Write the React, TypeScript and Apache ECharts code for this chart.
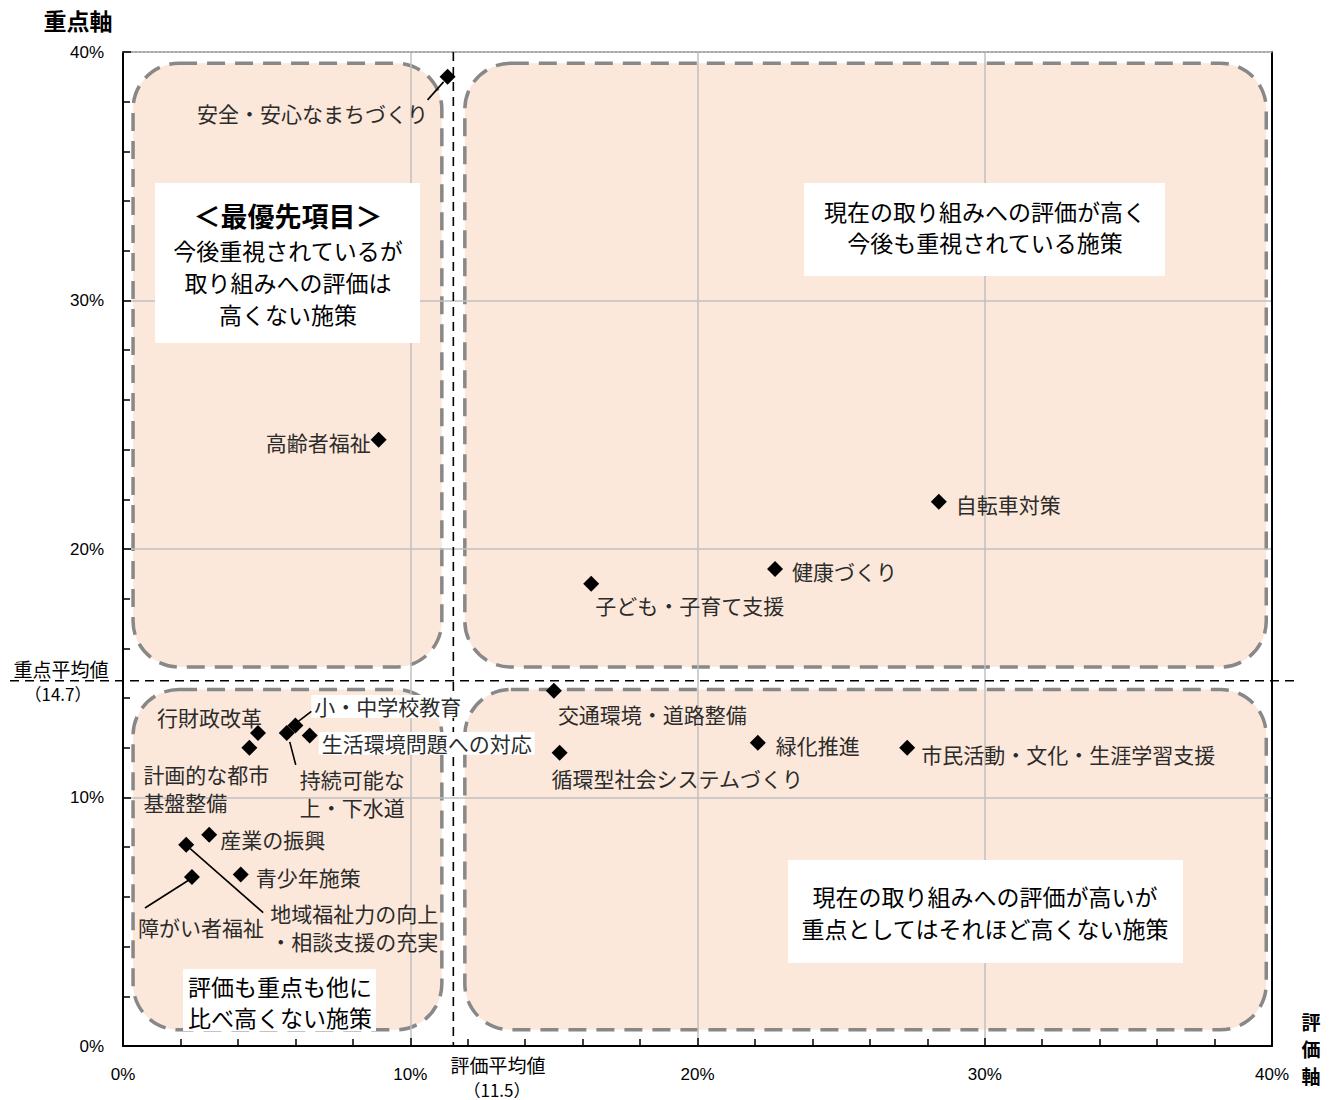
import React, { useEffect, useRef } from "react";
import * as echarts from "echarts";

// ---- data ----
const itemNames = [
  "安全・安心なまちづくり",
  "高齢者福祉",
  "自転車対策",
  "健康づくり",
  "子ども・子育て支援",
  "交通環境・道路整備",
  "循環型社会システムづくり",
  "緑化推進",
  "市民活動・文化・生涯学習支援",
  "行財政改革",
  "計画的な都市基盤整備",
  "小・中学校教育",
  "持続可能な上・下水道",
  "生活環境問題への対応",
  "産業の振興",
  "地域福祉力の向上・相談支援の充実",
  "障がい者福祉",
  "青少年施策",
];
const evalValues = [11.3, 8.9, 28.4, 22.7, 16.3, 15.0, 15.2, 22.1, 27.3, 4.7, 4.4, 6.0, 5.7, 6.5, 3.0, 2.2, 2.4, 4.1];
const priorityValues = [39.0, 24.4, 21.9, 19.2, 18.6, 14.3, 11.8, 12.2, 12.0, 12.6, 12.0, 12.9, 12.6, 12.5, 8.5, 8.1, 6.8, 6.9];
const avgEval = 11.5;
const avgPriority = 14.7;
const axisTicks = [0, 10, 20, 30, 40];

// ---- label layout (pixel offsets from each point) ----
type LabelCfg = {
  lines: string[];
  dx: number;
  dy: number; // centre of first line
  align: "left" | "right" | "center";
  bg?: boolean;
  leader?: [number, number, number, number];
};
const labelLayout: LabelCfg[] = [
  { lines: ["安全・安心なまちづくり"], dx: -135, dy: 36, align: "center", leader: [-4, 5, -20, 23] },
  { lines: ["高齢者福祉"], dx: -8, dy: 2, align: "right" },
  { lines: ["自転車対策"], dx: 17, dy: 2, align: "left" },
  { lines: ["健康づくり"], dx: 17, dy: 2, align: "left" },
  { lines: ["子ども・子育て支援"], dx: 4, dy: 21, align: "left" },
  { lines: ["交通環境・道路整備"], dx: 4, dy: 23, align: "left" },
  { lines: ["循環型社会システムづくり"], dx: -8, dy: 25, align: "left" },
  { lines: ["緑化推進"], dx: 18, dy: 2, align: "left" },
  { lines: ["市民活動・文化・生涯学習支援"], dx: 14, dy: 6, align: "left" },
  { lines: ["行財政改革"], dx: -101, dy: -16, align: "left" },
  { lines: ["計画的な都市", "基盤整備"], dx: -106, dy: 26, align: "left" },
  { lines: ["小・中学校教育"], dx: 16, dy: -19, align: "left", bg: true, leader: [3, -4, 16, -14] },
  { lines: ["持続可能な", "上・下水道"], dx: 13, dy: 46, align: "left", leader: [3, 9, 9, 32] },
  { lines: ["生活環境問題への対応"], dx: 9, dy: 8, align: "left", bg: true },
  { lines: ["産業の振興"], dx: 11, dy: 4, align: "left" },
  { lines: ["地域福祉力の向上", "・相談支援の充実"], dx: 84, dy: 68, align: "left", leader: [4, 4, 77, 68] },
  { lines: ["障がい者福祉"], dx: -54, dy: 50, align: "left", leader: [-3, 3, -47, 31] },
  { lines: ["青少年施策"], dx: 15, dy: 2, align: "left" },
];
const labelLineGap = 28;

// quadrant panels in data units [x0, y0, x1, y1]
const quadrantPanels = [
  [0.35, 15.25, 11.1, 39.55],
  [11.9, 15.25, 39.8, 39.55],
  [0.35, 0.65, 11.1, 14.35],
  [11.9, 0.65, 39.8, 14.35],
];

const JP = '"Noto Sans CJK JP", "Noto Sans", sans-serif';

export default function App() {
  const ref = useRef<HTMLDivElement>(null);
  useEffect(() => {
    if (!ref.current) return;
    const chart = echarts.init(ref.current, undefined, { renderer: "svg" });
    const axisLabelStyle = {
      fontFamily: '"Liberation Sans", Arial, sans-serif',
      fontSize: 17,
      color: "#000",
      formatter: (v: number) => (axisTicks.includes(v) ? v + "%" : ""),
    };
    chart.setOption({
      animation: false,
      grid: { left: 123, top: 52, right: 65, bottom: 54 },
      xAxis: [
        {
          type: "value",
          min: 0,
          max: 40,
          interval: 10,
          position: "bottom",
          axisLine: { onZero: false, lineStyle: { color: "#000", width: 2 } },
          axisTick: { inside: true, length: 8, lineStyle: { color: "#000", width: 1.5 } },
          minorTick: { show: true, splitNumber: 5, length: 7, lineStyle: { color: "#000", width: 1.5 } },
          axisLabel: { ...axisLabelStyle, margin: 20 },
          splitLine: { show: true, lineStyle: { color: "#c0c0c0", width: 1.5 } },
        },
        {
          type: "value",
          min: 0,
          max: 40,
          position: "top",
          axisLine: { show: true, onZero: false, lineStyle: { color: "#999", width: 1.5, type: [2, 2] } },
          axisTick: { show: false },
          axisLabel: { show: false },
          splitLine: { show: false },
        },
      ],
      yAxis: [
        {
          type: "value",
          min: 0,
          max: 40,
          interval: 10,
          position: "left",
          axisLine: { show: true, onZero: false, lineStyle: { color: "#000", width: 2 } },
          axisTick: { show: true, inside: true, length: 8, lineStyle: { color: "#000", width: 1.5 } },
          minorTick: { show: true, splitNumber: 5, length: 7, lineStyle: { color: "#000", width: 1.5 } },
          axisLabel: { ...axisLabelStyle, margin: 19 },
          splitLine: { show: true, lineStyle: { color: "#c0c0c0", width: 1.5 } },
        },
        {
          type: "value",
          min: 0,
          max: 40,
          position: "right",
          axisLine: { show: true, onZero: false, lineStyle: { color: "#000", width: 2 } },
          axisTick: { show: false },
          axisLabel: { show: false },
          splitLine: { show: false },
        },
      ],
      series: [
        {
          type: "scatter",
          xAxisIndex: 0,
          yAxisIndex: 0,
          symbol: "diamond",
          symbolSize: 16,
          itemStyle: { color: "#000", opacity: 1 },
          z: 20,
          data: itemNames.map((n, i) => ({ name: n, value: [evalValues[i], priorityValues[i]] })),
        },
      ],
    });

    const px = (x: number, y: number) => chart.convertToPixel({ gridIndex: 0 }, [x, y]) as number[];
    const graphics: any[] = [];

    // quadrant panels
    quadrantPanels.forEach(([x0, y0, x1, y1]) => {
      const a = px(x0, y1);
      const b = px(x1, y0);
      graphics.push({
        type: "rect",
        z: -10,
        shape: { x: a[0], y: a[1], width: b[0] - a[0], height: b[1] - a[1], r: 46 },
        style: { fill: "#fce8da", stroke: "#888", lineWidth: 3.5, lineDash: [18, 10] },
      });
    });

    // average lines
    const hA = px(0, avgPriority);
    const vA = px(avgEval, 40);
    const vB = px(avgEval, 0);
    graphics.push({
      type: "line",
      z: 15,
      shape: { x1: 10, y1: hA[1], x2: 1297, y2: hA[1] },
      style: { stroke: "#000", lineWidth: 1.6, lineDash: [9, 6] },
    });
    graphics.push({
      type: "line",
      z: 15,
      shape: { x1: vA[0], y1: vA[1], x2: vB[0], y2: vB[1] },
      style: { stroke: "#000", lineWidth: 1.6, lineDash: [9, 6] },
    });

    // data labels
    labelLayout.forEach((cfg, i) => {
      const p = px(evalValues[i], priorityValues[i]);
      cfg.lines.forEach((line, k) => {
        const style: any = {
          text: line,
          x: p[0] + cfg.dx,
          y: p[1] + cfg.dy + k * labelLineGap,
          align: cfg.align,
          verticalAlign: "middle",
          font: `21px ${JP}`,
          fill: "#2b2b2b",
        };
        if (cfg.bg) {
          style.backgroundColor = "#fff";
          style.padding = [1, 3];
        }
        graphics.push({ type: "text", z: 16, style });
      });
      if (cfg.leader) {
        const [a, b, c, d] = cfg.leader;
        graphics.push({
          type: "line",
          z: 17,
          shape: { x1: p[0] + a, y1: p[1] + b, x2: p[0] + c, y2: p[1] + d },
          style: { stroke: "#000", lineWidth: 1.6 },
        });
      }
    });

    // explanation boxes
    const box = (x: number, y: number, w: number, h: number) =>
      graphics.push({ type: "rect", z: 12, shape: { x, y, width: w, height: h }, style: { fill: "#fff" } });
    const boxText = (text: string, x: number, y: number, size: number, bold = false) =>
      graphics.push({
        type: "text",
        z: 13,
        style: {
          text,
          x,
          y,
          align: "center",
          verticalAlign: "middle",
          font: `${bold ? "bold " : ""}${size}px ${JP}`,
          fill: "#000",
        },
      });
    box(155, 183, 265, 160);
    boxText("＜最優先項目＞", 288, 215, 27, true);
    boxText("今後重視されているが", 288, 250, 23);
    boxText("取り組みへの評価は", 288, 282, 23);
    boxText("高くない施策", 288, 314, 23);

    box(804, 183, 361, 93);
    boxText("現在の取り組みへの評価が高く", 985, 211, 23);
    boxText("今後も重視されている施策", 985, 242, 23);

    box(788, 860, 395, 103);
    boxText("現在の取り組みへの評価が高いが", 985, 896, 23);
    boxText("重点としてはそれほど高くない施策", 985, 928, 23);

    box(183, 969, 193, 62);
    boxText("評価も重点も他に", 280, 986, 23);
    boxText("比べ高くない施策", 280, 1017, 23);

    // axis titles & average labels
    const plain = (text: string, x: number, y: number, size: number, bold = false) =>
      graphics.push({
        type: "text",
        z: 13,
        style: {
          text,
          x,
          y,
          align: "center",
          verticalAlign: "middle",
          font: `${bold ? "bold " : ""}${size}px ${JP}`,
          fill: "#000",
        },
      });
    plain("重点軸", 78, 20, 23, true);
    ["評", "価", "軸"].forEach((c, k) => plain(c, 1311, 1021 + k * 27, 19, true));
    plain("重点平均値", 61, 668, 19);
    plain(`（${avgPriority}）`, 58, 693, 17);
    plain("評価平均値", 498, 1064, 19);
    plain(`（${avgEval}）`, 497, 1089, 17);

    chart.setOption({ graphic: graphics });
    return () => chart.dispose();
  }, []);
  return <div ref={ref} style={{ position: "fixed", left: 0, top: 0, width: 1337, height: 1100, background: "#fff" }} />;
}
